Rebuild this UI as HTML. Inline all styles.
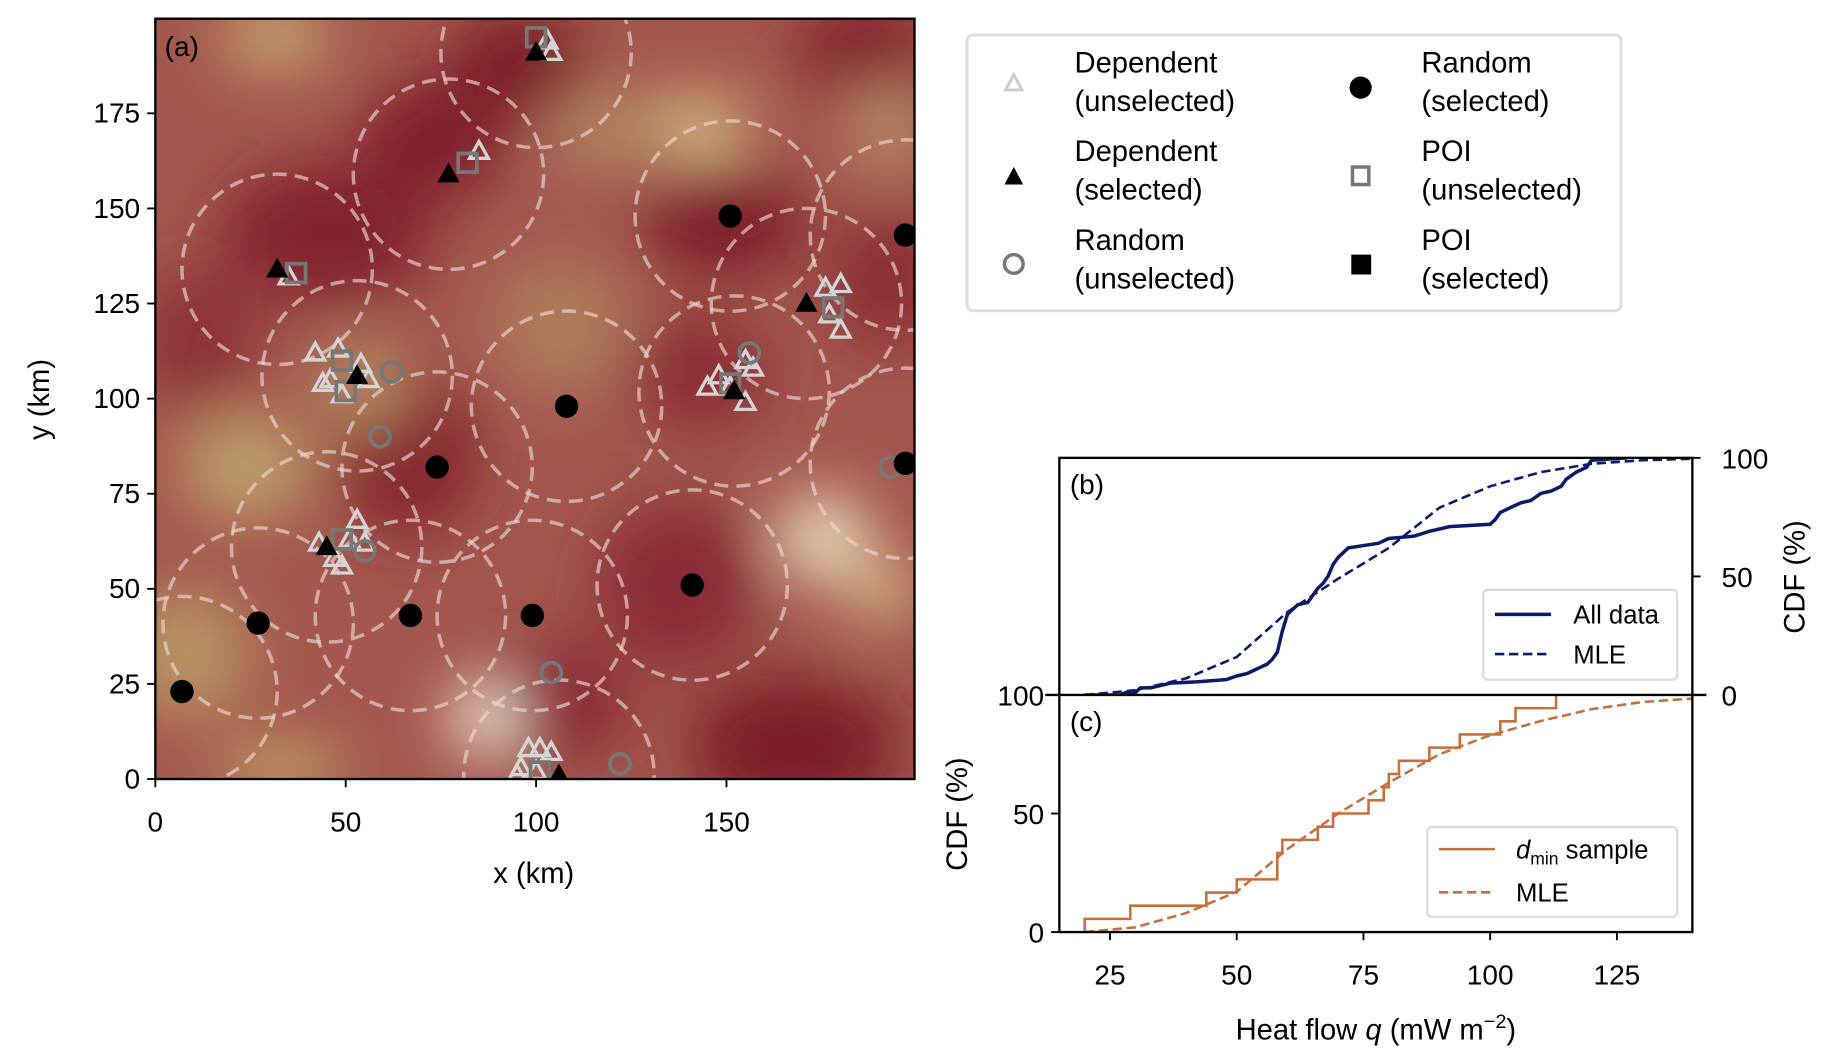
<!DOCTYPE html>
<html><head><meta charset="utf-8"><style>
html,body{margin:0;padding:0;background:#fff}
svg{display:block}
text{font-family:"Liberation Sans",sans-serif;fill:#000}
</style></head><body>
<svg id="fig" width="1822" height="1061" viewBox="0 0 1560 908.4" preserveAspectRatio="none" xmlns="http://www.w3.org/2000/svg">
<defs>
<clipPath id="clipA"><rect x="133" y="16" width="650" height="651"/></clipPath>
<clipPath id="clipB"><rect x="907" y="392" width="542" height="203"/></clipPath>
<clipPath id="clipC"><rect x="907" y="595" width="542" height="203"/></clipPath>
<filter id="blur" x="-50%" y="-50%" width="200%" height="200%"><feGaussianBlur stdDeviation="26"/></filter>
</defs>
<g id="map-bg" clip-path="url(#clipA)">
<rect x="133" y="16" width="650" height="651" fill="#a3574e"/>
<g filter="url(#blur)">
<ellipse cx="445" cy="55" rx="60" ry="45" fill="#7c1d28"/>
<ellipse cx="370" cy="120" rx="60" ry="50" fill="#801f2b"/>
<ellipse cx="280" cy="200" rx="90" ry="60" fill="#82232e"/>
<ellipse cx="620" cy="190" rx="70" ry="45" fill="#7e1f2a"/>
<ellipse cx="350" cy="390" rx="60" ry="70" fill="#85262f"/>
<ellipse cx="580" cy="500" rx="70" ry="70" fill="#8a2c34"/>
<ellipse cx="680" cy="640" rx="90" ry="60" fill="#7c1d26"/>
<ellipse cx="760" cy="240" rx="50" ry="60" fill="#8a2d34"/>
<ellipse cx="600" cy="320" rx="60" ry="50" fill="#8b2d36"/>
<ellipse cx="170" cy="290" rx="50" ry="60" fill="#8c3038"/>
<ellipse cx="740" cy="40" rx="60" ry="40" fill="#82232c"/>
<ellipse cx="480" cy="600" rx="60" ry="50" fill="#8a2c34"/>
<ellipse cx="235" cy="30" rx="45" ry="30" fill="#c6aa70"/>
<ellipse cx="600" cy="110" rx="40" ry="28" fill="#d9c487"/>
<ellipse cx="210" cy="400" rx="55" ry="45" fill="#bda06a"/>
<ellipse cx="415" cy="615" rx="30" ry="30" fill="#f4eedc"/>
<ellipse cx="705" cy="460" rx="38" ry="36" fill="#f0e4c0"/>
<ellipse cx="755" cy="505" rx="30" ry="26" fill="#d8c088"/>
<ellipse cx="160" cy="560" rx="55" ry="55" fill="#b89464"/>
<ellipse cx="240" cy="660" rx="55" ry="25" fill="#c0a068"/>
<ellipse cx="480" cy="280" rx="60" ry="60" fill="#ae7a5c"/>
<ellipse cx="520" cy="110" rx="50" ry="40" fill="#b08260"/>
<ellipse cx="760" cy="110" rx="30" ry="40" fill="#b8906a"/>
<ellipse cx="310" cy="330" rx="40" ry="40" fill="#b48a62"/>
</g>
<g id="circles-g"></g>
<g id="marks-g"></g>
</g>
<rect x="133" y="16" width="650" height="651" fill="none" stroke="#000" stroke-width="2"/>
<text x="141" y="48" font-size="24">(a)</text>
<g id="axA"></g>
<text x="457" y="756" font-size="25" text-anchor="middle">x (km)</text>
<text x="0" y="0" font-size="25" text-anchor="middle" transform="translate(42,342) rotate(-90)">y (km)</text>

<g id="legend">
<rect x="828" y="30" width="560" height="236" rx="5" fill="#fff" stroke="#ddd" stroke-width="2.5"/>
<g><path d="M868,64 l7,13 h-14 z" fill="none" stroke="#ccc" stroke-width="2.5"/><text x="920" y="62" font-size="25">Dependent</text><text x="920" y="95" font-size="25">(unselected)</text></g>
<g><path d="M868,143 l8,15 h-16 z" fill="#000"/><text x="920" y="138" font-size="25">Dependent</text><text x="920" y="171" font-size="25">(selected)</text></g>
<g><circle cx="868" cy="226" r="8" fill="none" stroke="#777" stroke-width="3"/><text x="920" y="214" font-size="25">Random</text><text x="920" y="247" font-size="25">(unselected)</text></g>
<g><circle cx="1165" cy="75" r="9.5" fill="#000"/><text x="1217" y="62" font-size="25">Random</text><text x="1217" y="95" font-size="25">(selected)</text></g>
<g><rect x="1158" y="143" width="14" height="15" fill="none" stroke="#777" stroke-width="3"/><text x="1217" y="138" font-size="25">POI</text><text x="1217" y="171" font-size="25">(unselected)</text></g>
<g><rect x="1157" y="218" width="17" height="17" fill="#000"/><text x="1217" y="214" font-size="25">POI</text><text x="1217" y="247" font-size="25">(selected)</text></g>
</g>

<g id="plotB" clip-path="url(#clipB)"></g>
<g id="plotC" clip-path="url(#clipC)"></g>
<rect x="907" y="392" width="542" height="406" fill="none" stroke="#000" stroke-width="2"/>
<line x1="895" y1="595" x2="1461" y2="595" stroke="#000" stroke-width="2"/>
<g id="axBC"></g>
<text x="916" y="423" font-size="24">(b)</text>
<text x="916" y="626" font-size="24">(c)</text>
<text transform="translate(1545,494) rotate(-90)" font-size="25" text-anchor="middle">CDF (%)</text>
<text transform="translate(828,697) rotate(-90)" font-size="25" text-anchor="middle">CDF (%)</text>
<text x="1178" y="890" font-size="25" text-anchor="middle">Heat flow <tspan font-style="italic">q</tspan> (mW m<tspan dy="-10" font-size="17">−2</tspan><tspan dy="10">)</tspan></text>

<g>
<rect x="1270" y="505" width="166" height="77" rx="4" fill="#fff" stroke="#ddd" stroke-width="2"/>
<line x1="1280" y1="526" x2="1328" y2="526" stroke="#0c1a6b" stroke-width="3"/>
<text x="1347" y="534" font-size="22">All data</text>
<line x1="1280" y1="560" x2="1328" y2="560" stroke="#0c1a6b" stroke-width="2.2" stroke-dasharray="8,4"/>
<text x="1347" y="568" font-size="22">MLE</text>
</g>
<g>
<rect x="1222" y="708" width="214" height="77" rx="4" fill="#fff" stroke="#ddd" stroke-width="2"/>
<line x1="1232" y1="727" x2="1280" y2="727" stroke="#c8703c" stroke-width="2.2"/>
<text x="1298" y="735" font-size="22"><tspan font-style="italic">d</tspan><tspan font-size="15" dy="5">min</tspan><tspan dy="-5"> sample</tspan></text>
<line x1="1232" y1="764" x2="1280" y2="764" stroke="#c8703c" stroke-width="2.2" stroke-dasharray="8,4"/>
<text x="1298" y="772" font-size="22">MLE</text>
</g>
</svg>
<script>
// ---- panel (a) data (km) ----
const randSelX=[7,27,67,99,74,108,141,151,197,197];
const randSelY=[23,41,43,43,82,98,51,148,143,83];
const depSelX=[100,77,32,53,45,152,171,106];
const depSelY=[191,159,134,106,61,102,125,1];
const depUnX=[103,104,85,35,42,48,46,54,56,49,44,53,43,47,49,55,51,145,148,155,157,155,151,176,180,177,180,96,98,101,104,95,100];
const depUnY=[194,191,165,132,112,113,105,109,105,101,104,68,62,58,56,62,63,103,106,110,108,99,103,129,130,122,118,3,8,8,7,1,2];
const poiX=[100,82,37,49,50,49,151,178,101];
const poiY=[195,162,133,110,102,63,104,124,2];
const randUnX=[62,59,55,156,104,122,193];
const randUnY=[107,90,60,112,28,4,82];
const radiusKm=25;
const mapTicks=[0,50,100,150];
const mapYTicks=[0,25,50,75,100,125,150,175];
// ---- panel (b) all-data ECDF (q, %) ----
const allQ=[20,27,28,30,31,33,37,42,45,48,50,52,53,55,56,57,58,59,60,61,62,64,65,66,67,68,69,70,71,72,75,78,80,85,88,92,100,101,102,104,106,108,110,112,114,115,117,119,120,127];
const allP=[0,0,1,1,3,3,5,5.5,6,6.5,8,9,10,12,13,15,18,27,34,36,38,39,42,45,47,50,55,58,60,62,63,64,66,67,69,71,72,74,77,79,81,82,85,86,88,91,94,96,99,100];
const mleQ=[20,30,40,50,60,70,80,90,100,110,120,130,140];
const mleBP=[0,2,7,16,35,49,62,79,88,94,97.5,99,99.6];
// ---- panel (c) d_min sample values ----
const dminSample=[20,29,44,50,58,58,59,66,69,76,79,80,82,88,94,102,105,113];
const mleCP=[0,2,8,17,35,50,63,75,83,89,94,97,98.5];
const qTicks=[25,50,75,100,125];
const cdfTicks=[0,50,100];

const NS="http://www.w3.org/2000/svg";
function mk(tag,attrs,parent){const e=document.createElementNS(NS,tag);for(const k in attrs)e.setAttribute(k,attrs[k]);parent.appendChild(e);return e;}
const ax=x=>133+x*3.26, ay=y=>667-y*3.257;
const kx=r=>r*3.26;
const qx=q=>907+(q-15)*4.34;
const byB=p=>595-p*2.03, byC=p=>798-p*2.03;

const cg=document.getElementById('circles-g');
const centersX=depSelX.concat(randSelX), centersY=depSelY.concat(randSelY);
for(let i=0;i<centersX.length;i++){
  const c=mk('circle',{cx:ax(centersX[i]),cy:ay(centersY[i]),r:kx(radiusKm),fill:'none',stroke:'rgba(235,215,210,0.65)','stroke-width':3,'stroke-dasharray':'12,7'},cg);
  
  
}
const mg=document.getElementById('marks-g');
function tri(x,y,s){return `M${x},${y-s} L${x+s*0.95},${y+s*0.7} L${x-s*0.95},${y+s*0.7} Z`;}
for(let i=0;i<depUnX.length;i++){
  const e=mk('path',{d:tri(ax(depUnX[i]),ay(depUnY[i]),8.5),fill:'none',stroke:'#d4d4d4','stroke-width':2.8},mg);
  
  
}
for(let i=0;i<poiX.length;i++){
  const e=mk('rect',{x:ax(poiX[i])-8,y:ay(poiY[i])-8,width:16,height:16,fill:'none',stroke:'#777','stroke-width':3.2},mg);
  
  
}
for(let i=0;i<randUnX.length;i++){
  const e=mk('circle',{cx:ax(randUnX[i]),cy:ay(randUnY[i]),r:8.5,fill:'none',stroke:'#777','stroke-width':3.2},mg);
  
  
}
for(let i=0;i<depSelX.length;i++){
  const e=mk('path',{d:tri(ax(depSelX[i]),ay(depSelY[i]),10),fill:'#000'},mg);
  
  
}
for(let i=0;i<randSelX.length;i++){
  const e=mk('circle',{cx:ax(randSelX[i]),cy:ay(randSelY[i]),r:10,fill:'#000'},mg);
  
  
}
const axA=document.getElementById('axA');
mapTicks.forEach(t=>{
  mk('line',{x1:ax(t),y1:667,x2:ax(t),y2:674,stroke:'#000','stroke-width':1.6},axA);
  const tx=mk('text',{x:ax(t),y:712,'font-size':24,'text-anchor':'middle'},axA);tx.textContent=t;
  
  
});
mapYTicks.forEach(t=>{
  mk('line',{x1:126,y1:ay(t),x2:133,y2:ay(t),stroke:'#000','stroke-width':1.6},axA);
  const tx=mk('text',{x:120,y:ay(t)+8,'font-size':24,'text-anchor':'end'},axA);tx.textContent=t;
  
  
});

// panel b
const pb=document.getElementById('plotB');
let d='';
for(let i=0;i<allQ.length;i++){d+=(i?' L':'M')+qx(allQ[i])+','+byB(allP[i]);}
let e=mk('path',{d:d,fill:'none',stroke:'#0c1a6b','stroke-width':3},pb);


d='';for(let i=0;i<mleQ.length;i++){d+=(i?' L':'M')+qx(mleQ[i])+','+byB(mleBP[i]);}
e=mk('path',{d:d,fill:'none',stroke:'#0c1a6b','stroke-width':2.2,'stroke-dasharray':'8,4'},pb);



// panel c
const pc=document.getElementById('plotC');
const n=dminSample.length;
d='M'+qx(dminSample[0])+','+byC(0);
let prev=0;
for(let i=0;i<n;i++){const p=(i+1)/n*100;d+=' L'+qx(dminSample[i])+','+byC(prev)+' L'+qx(dminSample[i])+','+byC(p);prev=p;}
e=mk('path',{d:d,fill:'none',stroke:'#c8703c','stroke-width':2.2},pc);


d='';for(let i=0;i<mleQ.length;i++){d+=(i?' L':'M')+qx(mleQ[i])+','+byC(mleCP[i]);}
e=mk('path',{d:d,fill:'none',stroke:'#c8703c','stroke-width':2.2,'stroke-dasharray':'8,4'},pc);



const axBC=document.getElementById('axBC');
qTicks.forEach(t=>{
  mk('line',{x1:qx(t),y1:798,x2:qx(t),y2:805,stroke:'#000','stroke-width':1.6},axBC);
  const tx=mk('text',{x:qx(t),y:843,'font-size':24,'text-anchor':'middle'},axBC);tx.textContent=t;
  
  
});
cdfTicks.forEach(t=>{
  if(t<100){mk('line',{x1:900,y1:byC(t),x2:907,y2:byC(t),stroke:'#000','stroke-width':1.6},axBC);}
  let tx=mk('text',{x:894,y:byC(t)+9,'font-size':24,'text-anchor':'end'},axBC);tx.textContent=t;
  
  
  if(t>0){mk('line',{x1:1449,y1:byB(t),x2:1456,y2:byB(t),stroke:'#000','stroke-width':1.6},axBC);}
  tx=mk('text',{x:1474,y:byB(t)+9,'font-size':24,'text-anchor':'start'},axBC);tx.textContent=t;
  
  
});
</script>
</body></html>
